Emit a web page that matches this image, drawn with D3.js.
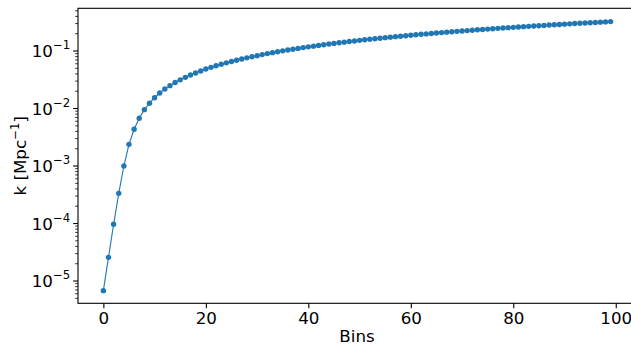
<!DOCTYPE html>
<html lang="en">
<head>
<meta charset="UTF-8">
<title>k per bin</title>
<style>
  body { margin: 0; background: #fff; }
  svg text { font-family: "DejaVu Sans", sans-serif; fill: #000; }
</style>
<script src="https://d3js.org/d3.v7.min.js"></script>
</head>
<body>
<script>
// values
const bins = d3.range(0, 100);
const kValues = [
  6.8e-6, 2.58e-5, 9.7e-5, 3.35e-4, 1.0e-3, 2.38e-3, 4.35e-3, 6.76e-3, 9.55e-3, 1.24e-2,
  0.0154, 0.0186, 0.0219, 0.0250, 0.0284, 0.0315, 0.0348, 0.0383, 0.0415, 0.0449,
  0.0486, 0.0520, 0.0554, 0.0588, 0.0622, 0.0656, 0.0691, 0.0726, 0.0761, 0.0796,
  0.0831, 0.0866, 0.0901, 0.0936, 0.0971, 0.1006, 0.1041, 0.1076, 0.1111, 0.1146,
  0.1181, 0.1216, 0.1251, 0.1286, 0.1321, 0.1356, 0.1391, 0.1426, 0.1461, 0.1496,
  0.1531, 0.1566, 0.1601, 0.1636, 0.1671, 0.1706, 0.1741, 0.1776, 0.1811, 0.1846,
  0.1881, 0.1916, 0.1951, 0.1986, 0.2021, 0.2056, 0.2091, 0.2126, 0.2161, 0.2196,
  0.2231, 0.2266, 0.2301, 0.2336, 0.2371, 0.2406, 0.2441, 0.2476, 0.2511, 0.2546,
  0.2581, 0.2616, 0.2651, 0.2686, 0.2721, 0.2756, 0.2791, 0.2826, 0.2861, 0.2896,
  0.2931, 0.2966, 0.3001, 0.3036, 0.3071, 0.3106, 0.3141, 0.3176, 0.3211, 0.3246
];
const xTicks = [0, 20, 40, 60, 80, 100];
const yExponents = [-5, -4, -3, -2, -1];

const W = 631, H = 345;
const mLeft = 78, mRight = 636, mTop = 8.3, mBottom = 303.3;
const fs = 16.7;
const blue = '#1f77b4';

const svg = d3.select('body').append('svg')
  .attr('width', W).attr('height', H);

const x = d3.scaleLinear().domain([-4.95, 103.95]).range([mLeft, mRight]);
const y = d3.scaleLog().domain([4.1e-6, 0.553]).range([mBottom, mTop]);

// line + markers
const line = d3.line().x((d, i) => x(bins[i])).y(d => y(d));
svg.append('path')
  .datum(kValues)
  .attr('d', line)
  .attr('fill', 'none')
  .attr('stroke', blue)
  .attr('stroke-width', 1.1);

svg.append('g').selectAll('circle')
  .data(kValues)
  .enter().append('circle')
  .attr('cx', (d, i) => x(bins[i]))
  .attr('cy', d => y(d))
  .attr('r', 2.7)
  .attr('fill', blue);

// x axis
const xAxis = svg.append('g').attr('transform', `translate(0,${mBottom})`)
  .call(d3.axisBottom(x).tickValues(xTicks).tickSize(4.9).tickPadding(4.2).tickFormat(d3.format('d')));
xAxis.select('.domain').remove();
xAxis.selectAll('line').attr('stroke', '#000').attr('stroke-width', 1.1);
xAxis.selectAll('text').attr('font-size', fs).attr('font-family', '"DejaVu Sans", sans-serif');

// y axis major ticks
const yg = svg.append('g');
yExponents.forEach(e => {
  const yy = y(Math.pow(10, e));
  yg.append('line')
    .attr('x1', mLeft - 4.9).attr('x2', mLeft)
    .attr('y1', yy).attr('y2', yy)
    .attr('stroke', '#000').attr('stroke-width', 1.1);
  const t = yg.append('text')
    .attr('x', mLeft - 7.8).attr('y', yy + 6)
    .attr('text-anchor', 'end')
    .attr('font-size', fs);
  t.append('tspan').text('10');
  t.append('tspan').attr('font-size', fs * 0.7).attr('dy', -7.8).text('\u2212' + Math.abs(e));
});

// y minor ticks
const minor = [];
for (let e = -6; e <= 0; e++) {
  for (let m = 2; m <= 9; m++) {
    const v = m * Math.pow(10, e);
    if (v >= y.domain()[0] && v <= y.domain()[1]) minor.push(v);
  }
}
yg.selectAll('line.minor')
  .data(minor)
  .enter().append('line')
  .attr('class', 'minor')
  .attr('x1', mLeft - 2.8).attr('x2', mLeft)
  .attr('y1', d => y(d)).attr('y2', d => y(d))
  .attr('stroke', '#000').attr('stroke-width', 0.8);

// spines
svg.append('rect')
  .attr('x', mLeft).attr('y', mTop)
  .attr('width', mRight - mLeft).attr('height', mBottom - mTop)
  .attr('fill', 'none').attr('stroke', '#000').attr('stroke-width', 1.1);

// axis labels
svg.append('text')
  .attr('x', (mLeft + mRight) / 2).attr('y', 341.7)
  .attr('text-anchor', 'middle')
  .attr('font-size', fs)
  .text('Bins');

const yl = svg.append('text')
  .attr('transform', `translate(26,${(mTop + mBottom) / 2}) rotate(-90)`)
  .attr('text-anchor', 'middle')
  .attr('font-size', fs);
yl.append('tspan').text('k [Mpc');
yl.append('tspan').attr('font-size', fs * 0.7).attr('dy', -7).text('\u22121');
yl.append('tspan').attr('dy', 7).text(']');
</script>
</body>
</html>
